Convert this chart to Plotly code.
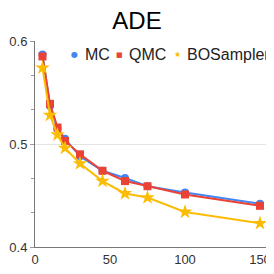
import plotly.graph_objects as go

samples = [5, 10, 15, 20, 30, 45, 60, 75, 100, 150]
mc = [0.587, 0.537, 0.515, 0.505, 0.488, 0.474, 0.467, 0.459, 0.453, 0.442]
qmc = [0.585, 0.539, 0.516, 0.503, 0.490, 0.474, 0.464, 0.459, 0.451, 0.440]
bos = [0.574, 0.528, 0.509, 0.496, 0.481, 0.464, 0.452, 0.448, 0.434, 0.423]
series_names = ["MC", "QMC", "BOSampler"]
x_ticks = [0, 50, 100, 150]
y_ticks = [0.4, 0.5, 0.6]

colors = ["#4285F4", "#EA4335", "#FBBC04"]
symbols = ["circle", "square", "star"]
sizes = [8, 8, 11]
FONT = "Liberation Sans, Arial, sans-serif"

fig = go.Figure()
for name, ys, c, s, sz in zip(series_names, [mc, qmc, bos], colors, symbols, sizes):
    fig.add_trace(go.Scatter(
        x=samples, y=ys, name=name, mode="lines+markers",
        line=dict(color=c, width=2),
        marker=dict(color=c, symbol=s, size=sz, line=dict(width=0)),
        showlegend=False,
    ))

# the page body has an 8px margin; size the figure so the window shows it like the reference
OFF = 8
WIN = 274
W = H = WIN - OFF
L, R, T, B = 35 - OFF, 2, 41 - OFF, 27
pw = W - L - R
ph = H - T - B

def px_x(p):  # window pixel -> paper x
    return (p - OFF - L) / pw

def px_y(p):  # window pixel -> paper y
    return (H - B - (p - OFF)) / ph

# legend built from annotations
glyphs = ["\u25CF", "\u25A0", "\u2605"]
glyph_sizes = [8, 7, 8]
glyph_x = [74, 119, 177]
text_x = [83, 127, 185]
leg_y = 55
for name, c, g, gs, gx, tx in zip(series_names, colors, glyphs, glyph_sizes, glyph_x, text_x):
    fig.add_annotation(text=g, x=px_x(gx), y=px_y(leg_y), xref="paper", yref="paper",
                       xanchor="center", yanchor="middle", showarrow=False,
                       font=dict(size=gs, color=c, family="DejaVu Sans"))
    fig.add_annotation(text=name, x=px_x(tx), y=px_y(leg_y), xref="paper", yref="paper",
                       xanchor="left", yanchor="middle", showarrow=False,
                       font=dict(size=16, color="#222222", family=FONT))

fig.update_layout(
    width=W, height=H,
    margin=dict(l=L, r=R, t=T, b=B, pad=0, autoexpand=False),
    paper_bgcolor="white", plot_bgcolor="white",
    font=dict(family=FONT, size=13, color="#333333"),
    title=dict(text="ADE", x=(137 - OFF) / W, xanchor="center", xref="container",
               y=1 - (21 - OFF) / H, yanchor="middle", yref="container",
               font=dict(size=24, color="#000000", family=FONT)),
    xaxis=dict(range=[0, pw / 1.5], tickvals=x_ticks, showgrid=False, zeroline=False,
               showline=True, linecolor="#777777", linewidth=1, automargin=False,
               ticks="", tickfont=dict(size=13, color="#333333")),
    yaxis=dict(range=[0.4, 0.6], tickvals=y_ticks, ticktext=["0.4", "0.5", "0.6"],
               showgrid=True, gridcolor="#e3e3e3", gridwidth=1, zeroline=False,
               showline=True, linecolor="#777777", linewidth=1, automargin=False,
               ticks="outside", ticklen=4, tickcolor="#999999",
               tickfont=dict(size=13, color="#333333"),
               minor=dict(dtick=0.1 / 3, tick0=0.4, ticks="outside", ticklen=3,
                          tickcolor="#999999", showgrid=False)),
    showlegend=False,
)

fig.write_html("out.html")
